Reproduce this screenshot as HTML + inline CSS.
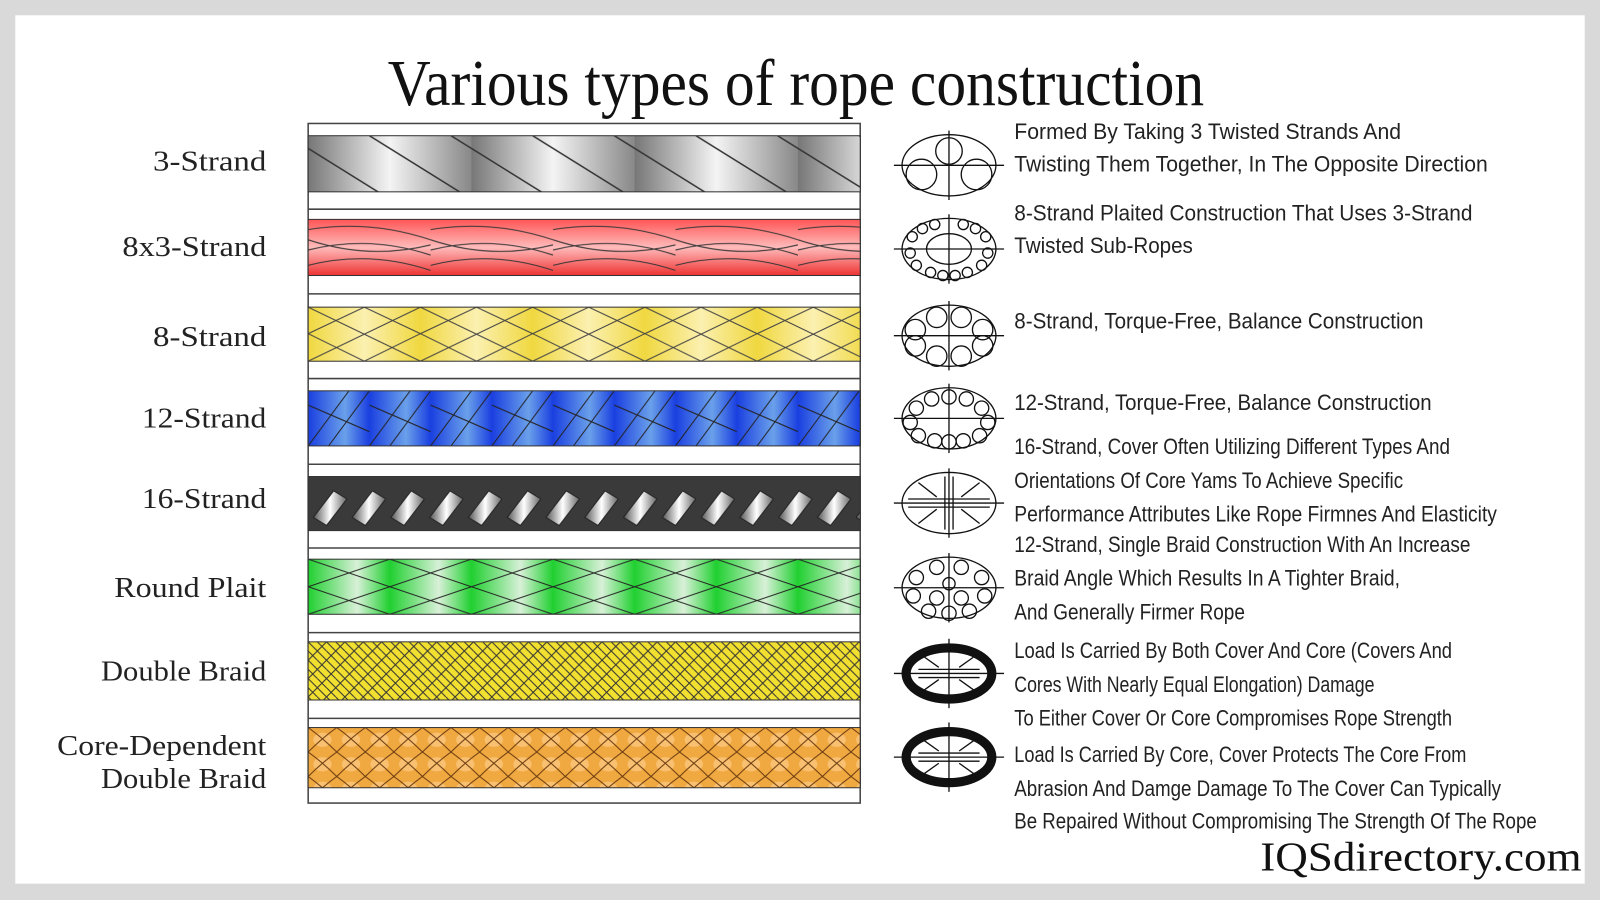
<!DOCTYPE html>
<html><head><meta charset="utf-8"><style>
html,body{margin:0;padding:0;background:#d9d9d9}
svg{display:block}
.t{font-family:"Liberation Serif",serif;fill:#111}
.d{font-family:"Liberation Sans Narrow","Liberation Sans",sans-serif;font-size:22px;fill:#222}
.l{font-family:"Liberation Serif",serif;font-size:28px;fill:#222;text-anchor:end}
</style></head><body>
<svg width="1600" height="900" viewBox="0 0 1568 882" preserveAspectRatio="none" xmlns="http://www.w3.org/2000/svg">
<defs>
<linearGradient id="gg" x1="0" y1="0" x2="1" y2="0"><stop offset="0" stop-color="#777"/><stop offset=".5" stop-color="#f4f4f4"/><stop offset="1" stop-color="#888"/></linearGradient>
<pattern id="p1" width="160" height="56" patternUnits="userSpaceOnUse" patternTransform="translate(302,133)"><rect width="160" height="56" fill="url(#gg)"/><path d="M-20 0 L70 56 M60 0 L150 56 M140 0 L230 56" stroke="#333" stroke-width="1.5" fill="none"/></pattern>
<linearGradient id="rg" x1="0" y1="0" x2="0" y2="1"><stop offset="0" stop-color="#f55"/><stop offset=".5" stop-color="#fbb"/><stop offset="1" stop-color="#e33"/></linearGradient>
<pattern id="p2" width="120" height="55" patternUnits="userSpaceOnUse" patternTransform="translate(302,215)"><rect width="120" height="55" fill="url(#rg)"/><path d="M0 10 Q60 0 120 20 M0 30 Q60 15 120 35 M0 45 Q60 30 120 50 M0 20 Q60 40 120 25" stroke="#333" stroke-width="1" fill="none"/></pattern>
<linearGradient id="yg" x1="0" y1="0" x2="1" y2="0"><stop offset="0" stop-color="#f0d840"/><stop offset=".5" stop-color="#fbf0b0"/><stop offset="1" stop-color="#f0d840"/></linearGradient>
<pattern id="p3" width="110" height="53" patternUnits="userSpaceOnUse" patternTransform="translate(302,301)"><rect width="110" height="53" fill="url(#yg)"/><path d="M0 0 L110 53 M0 53 L110 0 M0 26 L55 0 M55 53 L110 26 M0 26 L55 53 M55 0 L110 26" stroke="#444" stroke-width="1" fill="none"/></pattern>
<linearGradient id="bg" x1="0" y1="0" x2="1" y2="0"><stop offset="0" stop-color="#1a3fe0"/><stop offset=".6" stop-color="#6aa0ea"/><stop offset="1" stop-color="#1a3fe0"/></linearGradient>
<pattern id="p4" width="60" height="54" patternUnits="userSpaceOnUse" patternTransform="translate(302,383)"><rect width="60" height="54" fill="url(#bg)"/><path d="M0 54 L40 0 M20 54 L60 0 M0 14 L60 40" stroke="#222" stroke-width="1" fill="none"/></pattern>
<linearGradient id="wg" x1="0" y1="0" x2="1" y2="0"><stop offset="0" stop-color="#555"/><stop offset=".5" stop-color="#fff"/><stop offset="1" stop-color="#666"/></linearGradient>
<pattern id="p5" width="38" height="53" patternUnits="userSpaceOnUse" patternTransform="translate(302,467)"><rect width="38" height="53" fill="#3a3a3a"/><path d="M5 40 L25 14 L38 22 L18 48 Z" fill="url(#wg)" stroke="#222"/></pattern>
<linearGradient id="gr" x1="0" y1="0" x2="1" y2="0"><stop offset="0" stop-color="#20d030"/><stop offset=".6" stop-color="#d8f0d8"/><stop offset="1" stop-color="#20d030"/></linearGradient>
<pattern id="p6" width="80" height="54" patternUnits="userSpaceOnUse" patternTransform="translate(302,548)"><rect width="80" height="54" fill="url(#gr)"/><path d="M0 27 L80 0 M0 54 L80 27 M0 27 L80 54 M0 0 L80 27" stroke="#222" stroke-width="1" fill="none"/></pattern>
<pattern id="p7" width="18" height="18" patternUnits="userSpaceOnUse" patternTransform="translate(302,629)"><rect width="18" height="18" fill="#f2e030"/><path d="M0 0 L18 18 M9 0 L18 9 M0 9 L9 18 M0 18 L18 0" stroke="#333" stroke-width="1" fill="none"/></pattern>
<pattern id="p8" width="28" height="24" patternUnits="userSpaceOnUse" patternTransform="translate(302,713)"><rect width="28" height="24" fill="#f0a840"/><ellipse cx="14" cy="12" rx="9" ry="7" fill="#f8c070"/><path d="M0 0 Q14 10 28 24 M28 0 Q14 10 0 24" stroke="#6a3a10" stroke-width="1" fill="none"/></pattern>
</defs>
<rect x="15" y="15" width="1538" height="851" fill="#fff"/>
<text class="t" x="780" y="103" font-size="64" text-anchor="middle" textLength="800" lengthAdjust="spacingAndGlyphs">Various types of rope construction</text>
<rect x="302" y="121" width="541" height="666" fill="#fff" stroke="#444" stroke-width="1.5"/>
<g stroke="#444" stroke-width="1.5"><line x1="302" x2="843" y1="205" y2="205"/><line x1="302" x2="843" y1="288" y2="288"/><line x1="302" x2="843" y1="371" y2="371"/><line x1="302" x2="843" y1="455" y2="455"/><line x1="302" x2="843" y1="537" y2="537"/><line x1="302" x2="843" y1="620" y2="620"/><line x1="302" x2="843" y1="704" y2="704"/></g>
<g stroke="#333" stroke-width="1">
<rect x="302" y="133" width="541" height="55" fill="url(#p1)"/>
<rect x="302" y="215" width="541" height="55" fill="url(#p2)"/>
<rect x="302" y="301" width="541" height="53" fill="url(#p3)"/>
<rect x="302" y="383" width="541" height="54" fill="url(#p4)"/>
<rect x="302" y="467" width="541" height="53" fill="url(#p5)"/>
<rect x="302" y="548" width="541" height="54" fill="url(#p6)"/>
<rect x="302" y="629" width="541" height="57" fill="url(#p7)"/>
<rect x="302" y="713" width="541" height="59" fill="url(#p8)"/>
</g>
<g>
<text class="l" x="261" y="167" textLength="111" lengthAdjust="spacingAndGlyphs">3-Strand</text>
<text class="l" x="261" y="251" textLength="141" lengthAdjust="spacingAndGlyphs">8x3-Strand</text>
<text class="l" x="261" y="339" textLength="111" lengthAdjust="spacingAndGlyphs">8-Strand</text>
<text class="l" x="261" y="419" textLength="122" lengthAdjust="spacingAndGlyphs">12-Strand</text>
<text class="l" x="261" y="498" textLength="122" lengthAdjust="spacingAndGlyphs">16-Strand</text>
<text class="l" x="261" y="585" textLength="149" lengthAdjust="spacingAndGlyphs">Round Plait</text>
<text class="l" x="261" y="667" textLength="162" lengthAdjust="spacingAndGlyphs">Double Braid</text>
<text class="l" x="261" y="740" textLength="205" lengthAdjust="spacingAndGlyphs">Core-Dependent</text>
<text class="l" x="261" y="772" textLength="162" lengthAdjust="spacingAndGlyphs">Double Braid</text>
</g>
<g fill="none" stroke="#111" stroke-width="1.3">
<g transform="translate(930,162)"><ellipse rx="46" ry="30"/><line x1="-54" x2="54"/><line y1="-34" y2="34"/><circle cy="-14" r="13"/><circle cx="-27" cy="9" r="15"/><circle cx="27" cy="9" r="15"/></g>
<g transform="translate(930,244)"><ellipse rx="46" ry="30"/><ellipse rx="22" ry="15"/><line x1="-54" x2="54"/><line y1="-34" y2="34"/>
<circle cx="-36" cy="-12" r="5"/><circle cx="-26" cy="-20" r="5"/><circle cx="-14" cy="-24" r="5"/><circle cx="14" cy="-24" r="5"/><circle cx="26" cy="-20" r="5"/><circle cx="36" cy="-12" r="5"/><circle cx="-38" cy="4" r="5"/><circle cx="38" cy="4" r="5"/><circle cx="-32" cy="16" r="5"/><circle cx="32" cy="16" r="5"/><circle cx="-18" cy="23" r="5"/><circle cx="18" cy="23" r="5"/><circle cx="-6" cy="26" r="5"/><circle cx="6" cy="26" r="5"/></g>
<g transform="translate(930,329)"><ellipse rx="46" ry="30"/><line x1="-54" x2="54"/><line y1="-34" y2="34"/><circle cx="-12" cy="-18" r="10"/><circle cx="12" cy="-18" r="10"/><circle cx="-33" cy="-6" r="10"/><circle cx="33" cy="-6" r="10"/><circle cx="-33" cy="10" r="10"/><circle cx="33" cy="10" r="10"/><circle cx="-12" cy="20" r="10"/><circle cx="12" cy="20" r="10"/></g>
<g transform="translate(930,410)"><ellipse rx="46" ry="30"/><line x1="-54" x2="54"/><line y1="-34" y2="34"/><circle cy="-21" r="7"/><circle cx="-17" cy="-19" r="7"/><circle cx="17" cy="-19" r="7"/><circle cx="-32" cy="-10" r="7"/><circle cx="32" cy="-10" r="7"/><circle cx="-38" cy="4" r="7"/><circle cx="38" cy="4" r="7"/><circle cx="-30" cy="17" r="7"/><circle cx="30" cy="17" r="7"/><circle cx="-14" cy="22" r="7"/><circle cx="14" cy="22" r="7"/><circle cy="23" r="7"/></g>
<g transform="translate(930,493)"><ellipse rx="46" ry="30"/><line x1="-54" x2="54"/><line y1="-34" y2="34"/><line x1="-40" x2="40" y1="-4" y2="-4"/><line x1="-40" x2="40" y1="4" y2="4"/><line x1="-4" x2="-4" y1="-26" y2="26"/><line x1="4" x2="4" y1="-26" y2="26"/><path d="M-30 -20 L-12 -6 M30 -20 L12 -6 M-30 20 L-12 6 M30 20 L12 6"/></g>
<g transform="translate(930,576)"><ellipse rx="46" ry="30"/><line x1="-54" x2="54"/><line y1="-34" y2="34"/><circle cx="-12" cy="-20" r="7"/><circle cx="12" cy="-20" r="7"/><circle cx="-32" cy="-10" r="7"/><circle cx="32" cy="-10" r="7"/><circle cx="-35" cy="8" r="7"/><circle cx="35" cy="8" r="7"/><circle cx="-12" cy="10" r="7"/><circle cx="12" cy="10" r="7"/><circle cx="-20" cy="23" r="7"/><circle cx="20" cy="23" r="7"/><circle cy="25" r="7"/><circle cy="-4" r="6"/></g>
<g transform="translate(930,660)"><ellipse rx="42" ry="25" stroke-width="9"/><line x1="-54" x2="54"/><line y1="-34" y2="34"/><line x1="-30" x2="30" y1="-4" y2="-4"/><line x1="-30" x2="30" y1="4" y2="4"/><path d="M-24 -16 L-10 -6 M24 -16 L10 -6 M-24 16 L-10 6 M24 16 L10 6"/></g>
<g transform="translate(930,742)"><ellipse rx="42" ry="25" stroke-width="9"/><line x1="-54" x2="54"/><line y1="-34" y2="34"/><line x1="-30" x2="30" y1="-4" y2="-4"/><line x1="-30" x2="30" y1="4" y2="4"/><path d="M-24 -16 L-10 -6 M24 -16 L10 -6 M-24 16 L-10 6 M24 16 L10 6"/></g>
</g>
<g>
<text class="d" x="994" y="136" textLength="379" lengthAdjust="spacingAndGlyphs">Formed By Taking 3 Twisted Strands And</text>
<text class="d" x="994" y="168" textLength="464" lengthAdjust="spacingAndGlyphs">Twisting Them Together, In The Opposite Direction</text>
<text class="d" x="994" y="216" textLength="449" lengthAdjust="spacingAndGlyphs">8-Strand Plaited Construction That Uses 3-Strand</text>
<text class="d" x="994" y="248" textLength="175" lengthAdjust="spacingAndGlyphs">Twisted Sub-Ropes</text>
<text class="d" x="994" y="322" textLength="401" lengthAdjust="spacingAndGlyphs">8-Strand, Torque-Free, Balance Construction</text>
<text class="d" x="994" y="402" textLength="409" lengthAdjust="spacingAndGlyphs">12-Strand, Torque-Free, Balance Construction</text>
<text class="d" x="994" y="445" textLength="427" lengthAdjust="spacingAndGlyphs">16-Strand, Cover Often Utilizing Different Types And</text>
<text class="d" x="994" y="478" textLength="381" lengthAdjust="spacingAndGlyphs">Orientations Of Core Yams To Achieve Specific</text>
<text class="d" x="994" y="511" textLength="473" lengthAdjust="spacingAndGlyphs">Performance Attributes Like Rope Firmnes And Elasticity</text>
<text class="d" x="994" y="541" textLength="447" lengthAdjust="spacingAndGlyphs">12-Strand, Single Braid Construction With An Increase</text>
<text class="d" x="994" y="574" textLength="378" lengthAdjust="spacingAndGlyphs">Braid Angle Which Results In A Tighter Braid,</text>
<text class="d" x="994" y="607" textLength="226" lengthAdjust="spacingAndGlyphs">And Generally Firmer Rope</text>
<text class="d" x="994" y="645" textLength="429" lengthAdjust="spacingAndGlyphs">Load Is Carried By Both Cover And Core (Covers And</text>
<text class="d" x="994" y="678" textLength="353" lengthAdjust="spacingAndGlyphs">Cores With  Nearly Equal Elongation) Damage</text>
<text class="d" x="994" y="711" textLength="429" lengthAdjust="spacingAndGlyphs">To Either Cover Or Core Compromises Rope Strength</text>
<text class="d" x="994" y="747" textLength="443" lengthAdjust="spacingAndGlyphs">Load Is Carried By Core, Cover Protects The Core From</text>
<text class="d" x="994" y="780" textLength="477" lengthAdjust="spacingAndGlyphs">Abrasion And Damge Damage To The Cover Can Typically</text>
<text class="d" x="994" y="812" textLength="512" lengthAdjust="spacingAndGlyphs">Be Repaired Without Compromising The Strength Of The Rope</text>
</g>
<text class="t" x="1235" y="853" font-size="40" textLength="315" lengthAdjust="spacingAndGlyphs">IQSdirectory.com</text>
</svg>
</body></html>
